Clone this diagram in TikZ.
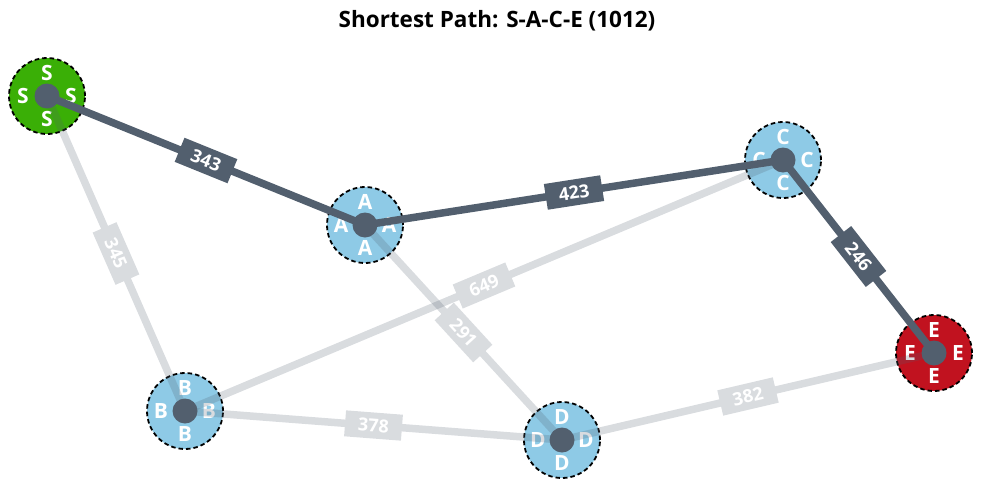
\documentclass[tikz,border=0pt]{standalone}
\usepackage{fontspec}
\setmainfont{Open Sans}
\definecolor{edgec}{RGB}{82,95,110}
\definecolor{nblue}{RGB}{142,202,230}
\definecolor{ngreen}{RGB}{58,175,6}
\definecolor{nred}{RGB}{193,18,31}
\tikzset{
  vertex/.style={circle, minimum size=76pt, inner sep=0pt, draw=black, dash pattern=on 4.5pt off 3pt, line width=1.8pt},
  lett/.style={text=white, font=\bfseries\fontsize{21}{21}\selectfont, inner sep=0pt},
  vdot/.style={circle, fill=edgec, minimum size=25pt, inner sep=0pt},
  wedge/.style={draw=edgec, line width=7.5pt},
  wbox/.style={fill=edgec, minimum width=57pt, minimum height=26pt, sloped, inner sep=0pt},
  wtext/.style={text=white, sloped, inner sep=0pt, font=\bfseries\fontsize{18}{18}\selectfont},
}
\newcommand{\vtx}[4]{%
  \node[vertex, fill=#4] (#1) at (#2,#3) {};
  \node[lett] (#1t) at (#2,#3-23) {#1};
  \node[lett] (#1b) at (#2,#3+23) {#1};
  \node[lett] (#1l) at (#2-24,#3) {#1};
  \node[lett] (#1r) at (#2+24,#3) {#1};
}
\newcommand{\lightedge}[3]{%
  \begin{scope}[transparency group, opacity=0.22]
    \draw[wedge] (#1.center) -- node[wbox] {} (#2.center);
  \end{scope}
  \path (#1.center) -- node[wtext] {#3} (#2.center);
}
\newcommand{\darkedge}[3]{%
  \draw[wedge] (#1.center) -- node[wbox] {} (#2.center);
  \path (#1.center) -- node[wtext] {#3} (#2.center);
}
\begin{document}
\begin{tikzpicture}[x=1pt,y=-1pt]
\useasboundingbox (0,0) rectangle (994,488);
\node[font=\bfseries\fontsize{22.5}{22.5}\selectfont] (title) at (497,21) {Shortest Path: S-A-C-E (1012)};
\vtx{S}{47}{96}{ngreen}
\vtx{A}{365}{225}{nblue}
\vtx{C}{783}{160}{nblue}
\vtx{E}{934}{353}{nred}
\vtx{B}{185}{411}{nblue}
\vtx{D}{562}{440}{nblue}
\lightedge{S}{B}{345}
\lightedge{A}{D}{291}
\lightedge{B}{C}{649}
\lightedge{B}{D}{378}
\lightedge{D}{E}{382}
\darkedge{S}{A}{343}
\darkedge{A}{C}{423}
\darkedge{C}{E}{246}
\foreach \n in {S,A,C,E,B,D} {\node[vdot] (\n dot) at (\n.center) {};}
\end{tikzpicture}
\end{document}
